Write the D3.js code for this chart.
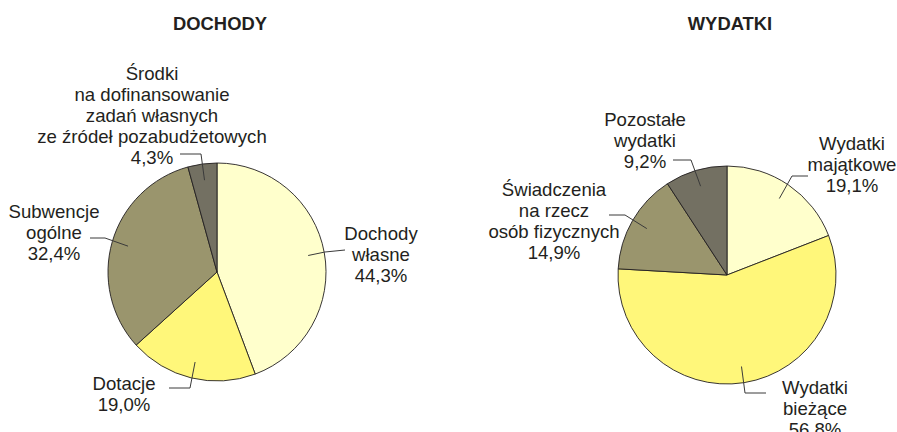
<!DOCTYPE html>
<html>
<head>
<meta charset="utf-8">
<script src="https://cdn.jsdelivr.net/npm/d3@7"></script>
<style>
  body { margin: 0; background: #fff; }
  svg text { font-family: "Liberation Sans", Arial, sans-serif; fill: #231f20; }
</style>
</head>
<body>
<svg id="chart" width="897" height="432"></svg>
<script>
// data
var incomeCategories = ["Dochody własne", "Dotacje", "Subwencje ogólne", "Środki na dofinansowanie zadań własnych ze źródeł pozabudżetowych"]
var incomeValues = [44.3, 19.0, 32.4, 4.3]
var incomeLabels = [
  ["Dochody", "własne", "44,3%"],
  ["Dotacje", "19,0%"],
  ["Subwencje", "ogólne", "32,4%"],
  ["Środki", "na dofinansowanie", "zadań własnych", "ze źródeł pozabudżetowych", "4,3%"]
]
var spendCategories = ["Wydatki majątkowe", "Wydatki bieżące", "Świadczenia na rzecz osób fizycznych", "Pozostałe wydatki"]
var spendValues = [19.1, 56.8, 14.9, 9.2]
var spendLabels = [
  ["Wydatki", "majątkowe", "19,1%"],
  ["Wydatki", "bieżące", "56,8%"],
  ["Świadczenia", "na rzecz", "osób fizycznych", "14,9%"],
  ["Pozostałe", "wydatki", "9,2%"]
]
var colors = ["#ffffcc", "#fff77a", "#9a956d", "#737062"]

// layout: label centre x, first line y, leader elbow and end (relative to pie centre)
var incomeLayout = [
  { x: 164, y: -39, elbow: [108, -20], end: [128, -22] },
  { x: -93, y: 111, elbow: [-27, 116], end: [-48, 116] },
  { x: -163, y: -61, elbow: [-112, -34], end: [-127, -34] },
  { x: -65, y: -199, elbow: [-16, -118], end: [-37, -118] }
]
var spendLayout = [
  { x: 125, y: -132, elbow: [65, -99], end: [81, -99] },
  { x: 88, y: 112, elbow: [18, 118], end: [39, 118] },
  { x: -173, y: -86, elbow: [-102, -60], end: [-118, -60] },
  { x: -82, y: -156, elbow: [-36, -115], end: [-54, -115] }
]

var svg = d3.select('#chart')
var r = 109
var lineH = 21

function drawPie(cx, cy, title, cats, values, labels, layout) {
  var g = svg.append('g').attr('transform', 'translate(' + cx + ',' + cy + ')')
  var pie = d3.pie().sort(null).value(d => d)
  var arcs = pie(values)
  var arc = d3.arc().innerRadius(0).outerRadius(r)
  var inner = d3.arc().innerRadius(r * 0.85).outerRadius(r * 0.85)

  g.selectAll('path.slice')
    .data(arcs)
    .enter().append('path')
    .attr('class', 'slice')
    .attr('d', arc)
    .attr('fill', (d, i) => colors[i])
    .attr('stroke', '#231f20')
    .attr('stroke-width', 0.9)
    .attr('stroke-linejoin', 'round')

  // leader lines
  g.selectAll('polyline')
    .data(arcs)
    .enter().append('polyline')
    .attr('points', (d, i) => {
      var p = inner.centroid(d)
      var L = layout[i]
      return [p, L.elbow, L.end].map(q => q.join(',')).join(' ')
    })
    .attr('fill', 'none')
    .attr('stroke', '#3a3a3a')
    .attr('stroke-width', 1)

  var lab = g.selectAll('text.lab')
    .data(arcs)
    .enter().append('text')
    .attr('class', 'lab')
    .attr('text-anchor', 'middle')
    .attr('font-size', 18.6)
  lab.each(function(d, i) {
    var L = layout[i]
    d3.select(this).selectAll('tspan')
      .data(labels[i])
      .enter().append('tspan')
      .attr('x', L.x)
      .attr('y', (t, j) => L.y + j * lineH)
      .attr('dy', '0.35em')
      .text(t => t)
  })

  svg.append('text')
    .attr('x', cx + 3)
    .attr('y', 30)
    .attr('text-anchor', 'middle')
    .attr('font-size', 18.4)
    .attr('font-weight', 'bold')
    .text(title)
}

drawPie(217, 272, 'DOCHODY', incomeCategories, incomeValues, incomeLabels, incomeLayout)
drawPie(727, 275, 'WYDATKI', spendCategories, spendValues, spendLabels, spendLayout)
</script>
</body>
</html>
